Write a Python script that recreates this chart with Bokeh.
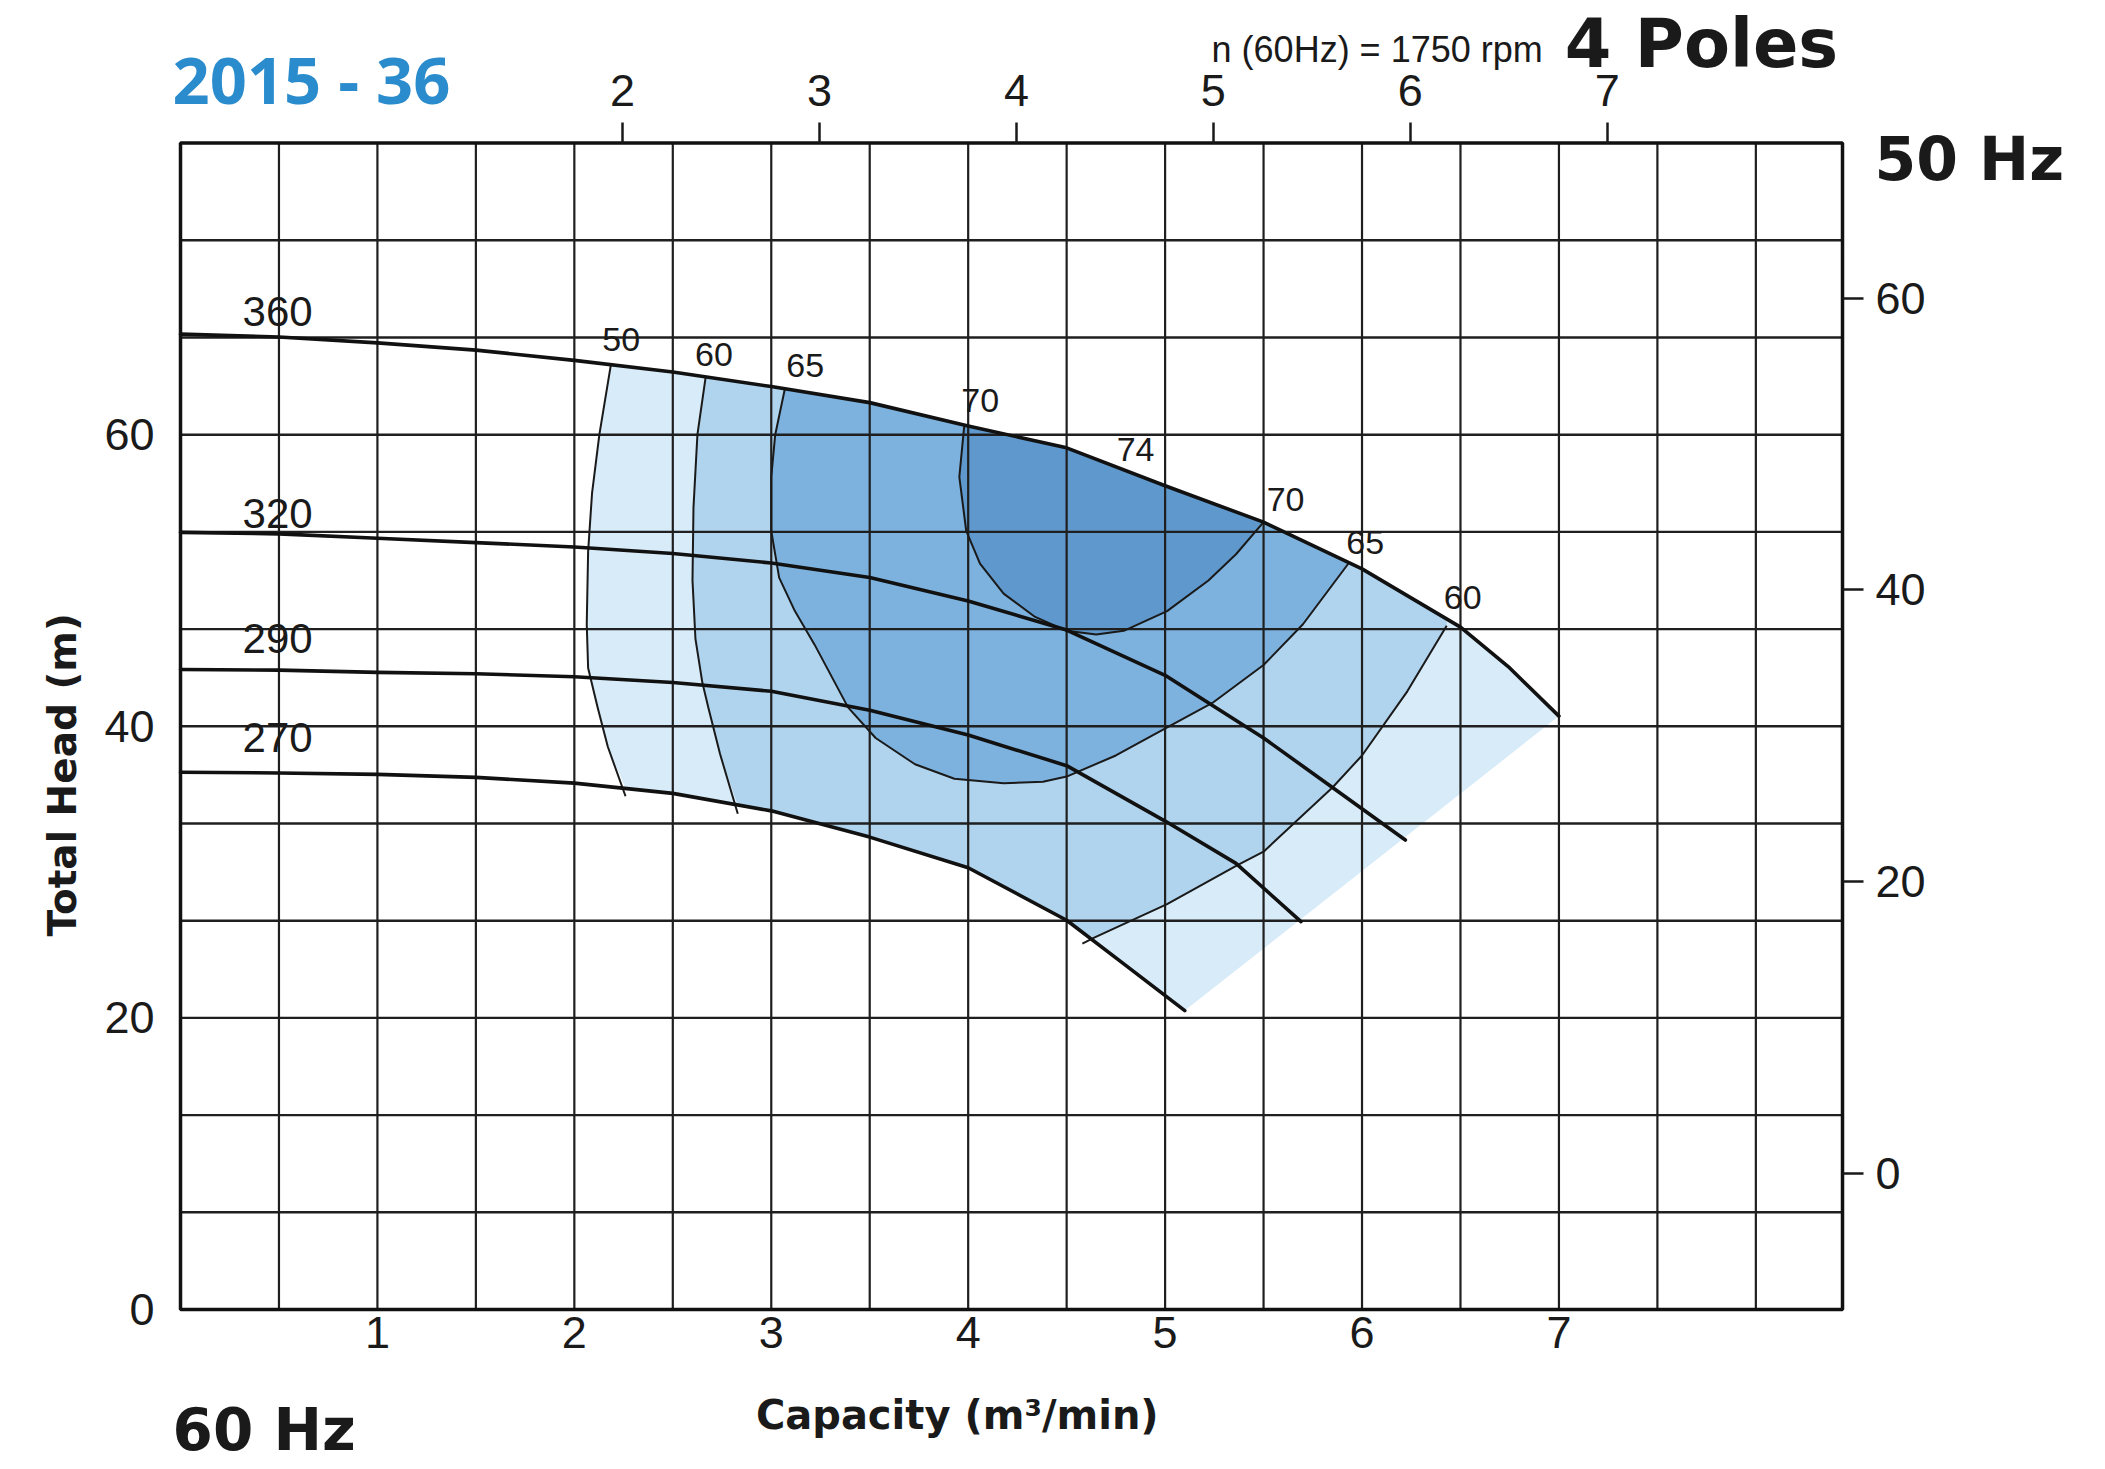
import numpy as np
from bokeh.plotting import figure
from bokeh.models import Range1d, LinearAxis, FixedTicker, Label
from bokeh.embed import file_html
from bokeh.resources import INLINE

# ---------------- data ----------------
# Q-H curves, capacity (m3/min, 60 Hz) vs total head (m), per impeller dia.
q360 = [0, 0.5, 1.0, 1.5, 2.0, 2.5, 3.0, 3.5, 4.0, 4.5, 5.0, 5.5, 6.0, 6.5, 6.75, 7.0]
h360 = [66.9, 66.7, 66.3, 65.8, 65.1, 64.3, 63.3, 62.2, 60.6, 59.1, 56.5, 54.0, 50.8, 46.8, 44.0, 40.7]
q320 = [0, 0.5, 1.0, 1.5, 2.0, 2.5, 3.0, 3.5, 4.0, 4.5, 5.0, 5.5, 5.85, 6.22]
h320 = [53.3, 53.2, 52.9, 52.6, 52.3, 51.85, 51.2, 50.2, 48.6, 46.6, 43.5, 39.2, 35.8, 32.2]
q290 = [0, 0.5, 1.0, 1.5, 2.0, 2.5, 3.0, 3.5, 4.0, 4.5, 5.0, 5.36, 5.69]
h290 = [43.9, 43.85, 43.7, 43.6, 43.4, 43.0, 42.4, 41.1, 39.4, 37.3, 33.5, 30.6, 26.6]
q270 = [0, 0.5, 1.0, 1.5, 2.0, 2.5, 3.0, 3.5, 4.0, 4.5, 4.8, 5.1]
h270 = [36.85, 36.8, 36.7, 36.5, 36.1, 35.4, 34.2, 32.4, 30.3, 26.7, 23.6, 20.5]
curve_names = ["360", "320", "290", "270"]

# efficiency contours (%)
e50_q = [2.185, 2.127, 2.09, 2.07, 2.063, 2.07, 2.118, 2.17, 2.26]
e50_h = [64.75, 60.0, 56.0, 52.0, 47.0, 44.0, 41.3, 38.6, 35.2]
e60a_q = [2.667, 2.625, 2.605, 2.60, 2.615, 2.65, 2.68, 2.74, 2.83]
e60a_h = [63.96, 60.0, 55.0, 50.0, 46.0, 43.0, 41.3, 38.1, 34.0]
e65_q = [3.07, 3.02, 3.0, 3.0, 3.04, 3.12, 3.22, 3.39, 3.53, 3.73, 3.93, 4.18, 4.38,
         4.5, 4.75, 5.02, 5.24, 5.5, 5.7, 5.93]
e65_h = [63.2, 60.0, 57.1, 53.4, 50.2, 47.9, 45.6, 41.3, 39.2, 37.4, 36.4, 36.1, 36.2,
         36.55, 38.0, 40.0, 41.6, 44.2, 47.0, 51.15]
e70_q = [3.98, 3.955, 3.99, 4.06, 4.18, 4.34, 4.5, 4.65, 4.79, 5.01, 5.22, 5.36, 5.5]
e70_h = [60.6, 57.1, 53.4, 51.15, 49.1, 47.5, 46.55, 46.3, 46.55, 47.9, 50.0, 51.8, 54.0]
e60b_q = [6.43, 6.23, 6.0, 5.85, 5.5, 5.37, 5.01, 4.64, 4.58]
e60b_h = [46.9, 42.4, 38.0, 35.8, 31.4, 30.5, 27.8, 25.5, 25.1]
eff_texts = ["50", "60", "65", "70", "74", "70", "65", "60"]

# tick labels
bottom_ticks = [1, 2, 3, 4, 5, 6, 7]
top_ticks = [2, 3, 4, 5, 6, 7]
left_ticks = [0, 20, 40, 60]
right_ticks = [0, 20, 40, 60]

# ---------------- layout / styling ----------------
W, H = 2100, 1469
X0, PX_X = 180.0, 196.92     # canvas px of capacity 0, px per m3/min
Y0, PX_Y = 1309.0, 14.58     # canvas px of head 0, px per m
Q_MAX, H_MAX = 8.44, 80.0    # chart box extent
TOP_SHIFT, RIGHT_SHIFT = 0.245, 9.35

SANS = "Liberation Sans"
BOLD = "DejaVu Sans"
INK = "#1a1a1a"
C_LIGHTEST = "#d7ebf8"
C_LIGHT = "#b0d4ee"
C_MED = "#7db2de"
C_DARK = "#5f98cd"

xs0, xs1 = -X0 / PX_X, (W - X0) / PX_X
ys0, ys1 = (Y0 - H) / PX_Y, Y0 / PX_Y

p = figure(width=W, height=H, x_range=Range1d(xs0, xs1), y_range=Range1d(ys0, ys1),
           output_backend="svg", toolbar_location=None, x_axis_location=None,
           y_axis_location=None, min_border=0, min_border_left=0, min_border_right=0,
           min_border_top=0, min_border_bottom=0)
p.background_fill_color = "white"
p.border_fill_color = "white"
p.outline_line_color = None
p.grid.visible = False

p.extra_x_ranges = {"top": Range1d(xs0 - TOP_SHIFT, xs1 - TOP_SHIFT)}
p.extra_y_ranges = {"right": Range1d(ys0 - RIGHT_SHIFT, ys1 - RIGHT_SHIFT)}

bottom_ax = LinearAxis(ticker=FixedTicker(ticks=bottom_ticks), fixed_location=0)
left_ax = LinearAxis(ticker=FixedTicker(ticks=left_ticks), fixed_location=0)
top_ax = LinearAxis(x_range_name="top", ticker=FixedTicker(ticks=top_ticks),
                    fixed_location=H_MAX)
right_ax = LinearAxis(y_range_name="right", ticker=FixedTicker(ticks=right_ticks),
                      fixed_location=Q_MAX)
p.add_layout(bottom_ax, "below")
p.add_layout(left_ax, "left")
p.add_layout(top_ax, "above")
p.add_layout(right_ax, "right")

for ax in (bottom_ax, left_ax, top_ax, right_ax):
    ax.axis_line_color = None
    ax.minor_tick_line_color = None
    ax.major_label_text_font = SANS
    ax.major_label_text_font_size = "45px"
    ax.major_label_text_color = INK
for ax in (bottom_ax, left_ax):
    ax.major_tick_line_color = None
    ax.major_tick_in = 0
    ax.major_tick_out = 0
bottom_ax.major_label_standoff = 7
left_ax.major_label_standoff = 26
for ax in (top_ax, right_ax):
    ax.major_tick_in = 0
    ax.major_tick_out = 21
    ax.major_tick_line_width = 2.5
    ax.major_tick_line_color = INK
top_ax.major_label_standoff = 16
right_ax.major_label_standoff = 12


# ---------------- polygons built from the curves ----------------
def along(qx, hy, a, b):
    qx = np.asarray(qx, float)
    hy = np.asarray(hy, float)
    lo, hi = min(a, b), max(a, b)
    m = (qx > lo) & (qx < hi)
    xs = np.concatenate([[lo], qx[m], [hi]])
    ys = np.interp(xs, qx, hy)
    if a > b:
        xs, ys = xs[::-1], ys[::-1]
    return list(xs), list(ys)


def on270(x):
    return float(np.interp(x, q270, h270))


# lightest: from the 50 contour to the right diagonal edge
px, py = list(e50_q[::-1]), list(e50_h[::-1])
py[0] = on270(px[0])
ax_, ay_ = along(q360, h360, e50_q[0], q360[-1])
bx_, by_ = along(q270, h270, q270[-1], e50_q[-1])
p.patch(px + ax_ + bx_, py + ay_ + by_, fill_color=C_LIGHTEST, line_color=None)

# light: inside the 60 contours
px, py = list(e60a_q[::-1]), list(e60a_h[::-1])
py[0] = on270(px[0])
ax_, ay_ = along(q360, h360, e60a_q[0], e60b_q[0])
cx, cy = list(e60b_q), list(e60b_h)
cy[-1] = on270(cx[-1])
bx_, by_ = along(q270, h270, e60b_q[-1], e60a_q[-1])
p.patch(px + ax_ + cx + bx_, py + ay_ + cy + by_, fill_color=C_LIGHT, line_color=None)

# medium: inside the 65 loop
ax_, ay_ = along(q360, h360, e65_q[-1], e65_q[0])
p.patch(list(e65_q) + ax_, list(e65_h) + ay_, fill_color=C_MED, line_color=None)

# dark: inside the 70 loop
ax_, ay_ = along(q360, h360, e70_q[-1], e70_q[0])
p.patch(list(e70_q) + ax_, list(e70_h) + ay_, fill_color=C_DARK, line_color=None)

# grid (every 0.5 m3/min and every 20/3 m inside the chart box)
gx = np.arange(0.5, Q_MAX, 0.5)
gy = np.arange(1, 12) * H_MAX / 12
p.segment(x0=gx, y0=np.zeros_like(gx), x1=gx, y1=np.full_like(gx, H_MAX),
          line_color="#1f1f1f", line_width=2.2)
p.segment(x0=np.zeros_like(gy), y0=gy, x1=np.full_like(gy, Q_MAX), y1=gy,
          line_color="#1f1f1f", line_width=2.4)

# contour lines
for cq, ch in ((e50_q, e50_h), (e60a_q, e60a_h), (e65_q, e65_h),
               (e70_q, e70_h), (e60b_q, e60b_h)):
    p.line(cq, ch, line_color=INK, line_width=2, line_join="round")

# Q-H curves
for cq, ch in ((q360, h360), (q320, h320), (q290, h290), (q270, h270)):
    p.line(cq, ch, line_color="#111111", line_width=3.6, line_join="round",
           line_cap="round")

# chart box
p.quad(left=[0], right=[Q_MAX], bottom=[0], top=[H_MAX], fill_color=None,
       line_color="#111111", line_width=3.5)


# ---------------- text ----------------
def lab(x, y, text, font, size, k=0.39, bold=False, **kw):
    """Label whose glyph baseline sits at data height y."""
    p.add_layout(Label(x=x, y=y + k * size / PX_Y, text=text, text_font=font,
                       text_font_size=f"{size}px",
                       text_font_style="bold" if bold else "normal",
                       text_color=kw.pop("text_color", INK),
                       text_baseline="alphabetic", **kw))


curve_label_pos = [(0.315, 67.3), (0.315, 53.5), (0.315, 44.9), (0.315, 38.1)]
for t, (x, y) in zip(curve_names, curve_label_pos):
    lab(x, y, t, SANS, 42)

eff_pos = [(2.142, 65.6), (2.613, 64.6), (3.076, 63.85), (3.965, 61.45),
           (4.754, 58.1), (5.516, 54.66), (5.92, 51.7), (6.415, 47.94)]
for t, (x, y) in zip(eff_texts, eff_pos):
    lab(x, y, t, SANS, 34)

lab(-0.04, 82.5, "2015 - 36", "Open Sans", 65, k=0.43, bold=True,
    text_color="#2a8ccd")
lab(5.236, 85.46, "n (60Hz) = 1750 rpm", SANS, 36)
lab(7.03, 85.0, "4 Poles", BOLD, 67, bold=True)
lab(8.603, 77.3, "50 Hz", BOLD, 60, bold=True)
lab(-0.04, -9.85, "60 Hz", BOLD, 58, bold=True)
lab(3.98, -8.3, "Capacity  (m³/min)", BOLD, 40, bold=True, text_align="center")

p.add_layout(Label(x=-0.6, y=37.6, text="Total  Head  (m)", text_font=BOLD,
                   text_font_style="bold", text_font_size="39px", text_align="center",
                   angle=np.pi / 2, text_color=INK, text_baseline="middle"))

open("out.html", "w").write(file_html(p, INLINE))
